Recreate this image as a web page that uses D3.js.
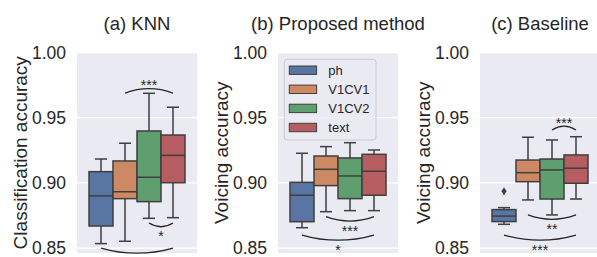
<!DOCTYPE html>
<html>
<head>
<meta charset="utf-8">
<script src="https://cdn.jsdelivr.net/npm/d3@7"></script>
<style>
  body { margin: 0; background: #fff; }
  text { font-family: "Liberation Sans", Arial, sans-serif; fill: #262626; }
</style>
</head>
<body>
<div id="chart"></div>
<script>
// chart values
var titles = ["(a) KNN", "(b) Proposed method", "(c) Baseline"];
var yLabels = ["Classification accuracy", "Voicing accuracy", "Voicing accuracy"];
var hues = ["ph", "V1CV1", "V1CV2", "text"];
var colors = ["#5975a4", "#cc8963", "#5f9e6e", "#b55d60"];
var yTicks = [0.85, 0.90, 0.95, 1.00];

// [low whisker, q1, median, q3, high whisker] for each hue
var knnStats = [
  [0.8534, 0.8669, 0.8900, 0.9086, 0.9183],
  [0.8552, 0.8879, 0.8932, 0.9168, 0.9304],
  [0.8728, 0.8856, 0.9043, 0.9398, 0.9687],
  [0.8733, 0.9001, 0.9211, 0.9367, 0.9580]
];
var proposedStats = [
  [0.8656, 0.8702, 0.8905, 0.9004, 0.9227],
  [0.8779, 0.8979, 0.9104, 0.9206, 0.9278],
  [0.8787, 0.8879, 0.9053, 0.9191, 0.9308],
  [0.8787, 0.8905, 0.9089, 0.9219, 0.9252]
];
var baselineStats = [
  [0.8682, 0.8703, 0.8745, 0.8795, 0.8810],
  [0.8869, 0.9009, 0.9078, 0.9175, 0.9350],
  [0.8754, 0.8876, 0.9099, 0.9183, 0.9329],
  [0.8876, 0.8997, 0.9112, 0.9214, 0.9354]
];
var knnOutliers = [];
var proposedOutliers = [];
var baselineOutliers = [[0, 0.8935]];

// significance brackets: hue index pair, level, direction, label
var knnSig = [
  {a: 1, b: 3, level: 0.9689, up: true,  label: "***"},
  {a: 2, b: 3, level: 0.8692, up: false, label: "*"},
  {a: 0, b: 3, level: 0.8500, up: false, label: ""}
];
var proposedSig = [
  {a: 1, b: 3, level: 0.8741, up: false, label: "***"},
  {a: 0, b: 3, level: 0.8600, up: false, label: "*"}
];
var baselineSig = [
  {a: 2, b: 3, level: 0.9406, up: true,  label: "***"},
  {a: 1, b: 3, level: 0.8754, up: false, label: "**"},
  {a: 0, b: 3, level: 0.8600, up: false, label: "***"}
];

var panelStats = [knnStats, proposedStats, baselineStats];
var panelOutliers = [knnOutliers, proposedOutliers, baselineOutliers];
var panelSig = [knnSig, proposedSig, baselineSig];

var W = 597, H = 257;
var panelLeft = [77, 278, 480];
var pw = 120, plotTop = 52.5, plotBottom = 253;
var edge = "#3f3f3f";

var svg = d3.select("#chart").append("svg")
  .attr("width", W).attr("height", H);

var y = d3.scaleLinear().domain([0.8462, 1.0]).range([plotBottom, plotTop]);

panelStats.forEach(function(stats, p) {
  var g = svg.append("g").attr("transform", "translate(" + panelLeft[p] + ",0)");

  // background + grid
  g.append("rect").attr("x", 0).attr("y", plotTop).attr("width", pw)
    .attr("height", plotBottom - plotTop).attr("fill", "#eaeaf2");

  g.selectAll(".grid").data(yTicks).enter().append("line")
    .attr("x1", 0).attr("x2", pw)
    .attr("y1", function(d) { return y(d); })
    .attr("y2", function(d) { return y(d); })
    .attr("stroke", "#fff").attr("stroke-width", 1.3);

  // y axis labels
  var ax = g.append("g").call(d3.axisLeft(y).tickValues(yTicks)
      .tickFormat(d3.format(".2f")).tickSize(0).tickPadding(11));
  ax.select(".domain").remove();
  ax.selectAll("text").attr("font-size", "17.5px")
    .style("font-family", "'Liberation Sans', Arial, sans-serif").attr("fill", "#262626");

  g.append("text").attr("x", pw / 2).attr("y", 30)
    .attr("text-anchor", "middle").attr("font-size", "18.5px").text(titles[p]);

  g.append("text")
    .attr("transform", "translate(-50.5," + ((plotTop + plotBottom) / 2) + ") rotate(-90)")
    .attr("text-anchor", "middle").attr("font-size", "19px").text(yLabels[p]);

  var x = d3.scaleBand().domain(hues).range([0.1 * pw, 0.9 * pw]).padding(0);
  var bw = x.bandwidth();

  var box = g.selectAll(".box").data(stats).enter().append("g");

  // whiskers
  box.append("line")
    .attr("x1", function(d, i) { return x(hues[i]) + bw / 2; })
    .attr("x2", function(d, i) { return x(hues[i]) + bw / 2; })
    .attr("y1", function(d) { return y(d[0]); })
    .attr("y2", function(d) { return y(d[1]); })
    .attr("stroke", edge).attr("stroke-width", 1.5);
  box.append("line")
    .attr("x1", function(d, i) { return x(hues[i]) + bw / 2; })
    .attr("x2", function(d, i) { return x(hues[i]) + bw / 2; })
    .attr("y1", function(d) { return y(d[3]); })
    .attr("y2", function(d) { return y(d[4]); })
    .attr("stroke", edge).attr("stroke-width", 1.5);
  [0, 4].forEach(function(k) {
    box.append("line")
      .attr("x1", function(d, i) { return x(hues[i]) + bw / 4; })
      .attr("x2", function(d, i) { return x(hues[i]) + bw * 3 / 4; })
      .attr("y1", function(d) { return y(d[k]); })
      .attr("y2", function(d) { return y(d[k]); })
      .attr("stroke", edge).attr("stroke-width", 1.5);
  });

  box.append("rect")
    .attr("x", function(d, i) { return x(hues[i]); })
    .attr("y", function(d) { return y(d[3]); })
    .attr("width", bw)
    .attr("height", function(d) { return y(d[1]) - y(d[3]); })
    .attr("fill", function(d, i) { return colors[i]; })
    .attr("stroke", edge).attr("stroke-width", 1.5);

  box.append("line")
    .attr("x1", function(d, i) { return x(hues[i]); })
    .attr("x2", function(d, i) { return x(hues[i]) + bw; })
    .attr("y1", function(d) { return y(d[2]); })
    .attr("y2", function(d) { return y(d[2]); })
    .attr("stroke", edge).attr("stroke-width", 1.5);

  // outliers as diamonds
  g.selectAll(".out").data(panelOutliers[p]).enter().append("path")
    .attr("d", function(d) {
      var cx = x(hues[d[0]]) + bw / 2, cy = y(d[1]);
      return "M" + cx + "," + (cy - 4) + "L" + (cx + 2.6) + "," + cy +
             "L" + cx + "," + (cy + 4) + "L" + (cx - 2.6) + "," + cy + "Z";
    })
    .attr("fill", edge);

  // significance arcs
  panelSig[p].forEach(function(s) {
    var x1 = x(hues[s.a]) + bw / 2, x2 = x(hues[s.b]) + bw / 2;
    var yy = y(s.level);
    var depth = 3 + (x2 - x1) * 0.03;
    var dir = s.up ? -1 : 1;
    g.append("path")
      .attr("d", "M" + x1 + "," + yy + "Q" + ((x1 + x2) / 2) + "," + (yy + dir * depth * 2) +
                 " " + x2 + "," + yy)
      .attr("fill", "none").attr("stroke", "#262626").attr("stroke-width", 1.3);
    var fs = 14;
    var cy = yy + dir * (depth + 6.5);
    g.append("text").attr("x", (x1 + x2) / 2).attr("y", cy + 0.57 * fs)
      .attr("text-anchor", "middle").attr("font-size", fs + "px").text(s.label);
  });

  // legend only in the middle panel
  if (p === 1) {
    var lg = g.append("g").attr("transform", "translate(6.3,59.3)");
    lg.append("rect").attr("width", 91.7).attr("height", 80.7).attr("rx", 3)
      .attr("fill", "#eaeaf2").attr("fill-opacity", 0.8)
      .attr("stroke", "#cccccc").attr("stroke-width", 1);
    hues.forEach(function(h, i) {
      var cy = 10.9 + i * 19.1;
      lg.append("rect").attr("x", 5).attr("y", cy - 4.2).attr("width", 27.3).attr("height", 8.4)
        .attr("fill", colors[i]).attr("stroke", edge).attr("stroke-width", 1);
      lg.append("text").attr("x", 44).attr("y", cy).attr("dy", "0.36em")
        .attr("font-size", "13px").text(h);
    });
  }
});
</script>
</body>
</html>
